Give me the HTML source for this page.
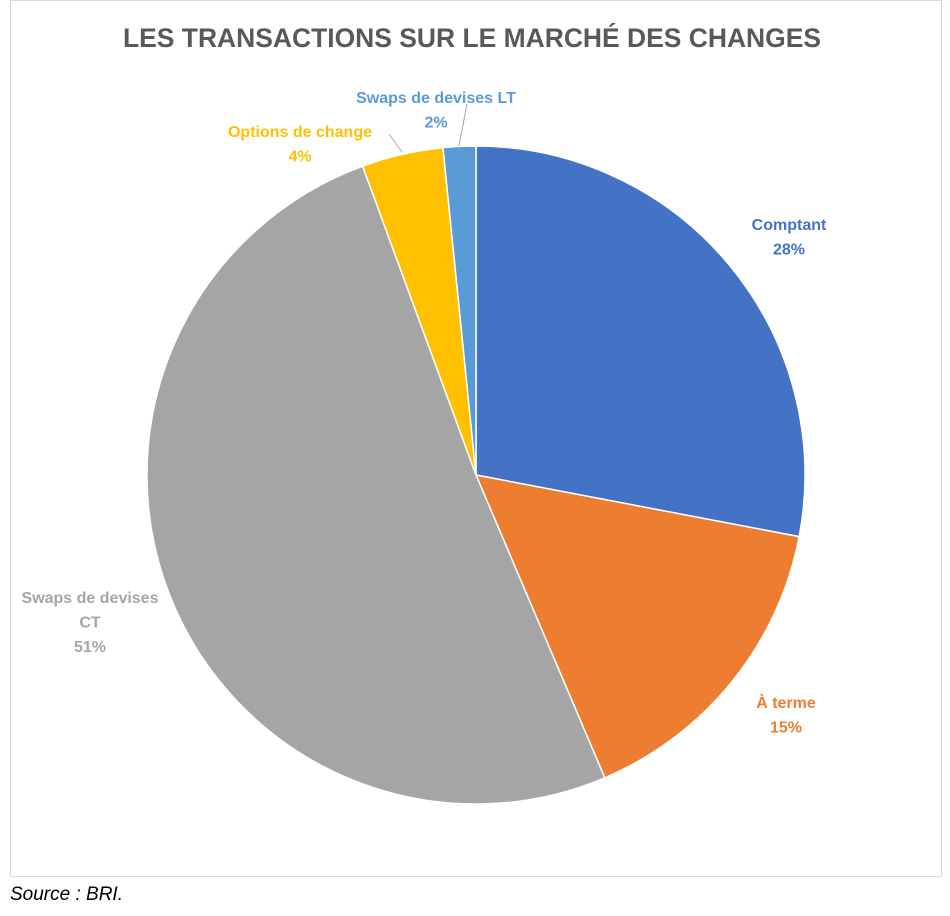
<!DOCTYPE html>
<html><head><meta charset="utf-8"><style>
html,body{margin:0;padding:0;background:#fff;width:950px;height:916px;overflow:hidden}
svg{display:block}
</style></head><body>
<svg width="950" height="916" viewBox="0 0 950 916" xmlns="http://www.w3.org/2000/svg">
<rect x="10.5" y="0.5" width="931" height="876" fill="#fff" stroke="#d9d9d9"/>
<text x="472" y="47" text-anchor="middle" font-family="Liberation Sans, sans-serif" font-weight="bold" font-size="27" fill="#595959" textLength="698" lengthAdjust="spacingAndGlyphs">LES TRANSACTIONS SUR LE MARCHÉ DES CHANGES</text>
<g id="slices"></g>
<g id="labels"></g>
<line x1="389" y1="134" x2="402" y2="152" stroke="#a6a6a6" stroke-width="1"/>
<line x1="467" y1="104" x2="459" y2="146" stroke="#a6a6a6" stroke-width="1"/>
<text x="10" y="900" font-family="Liberation Sans, sans-serif" font-style="italic" font-size="19" fill="#000">Source : BRI.</text>
</svg>
<script>
const categories = ["Comptant", "À terme", "Swaps de devises CT", "Options de change", "Swaps de devises LT"];
const values = [28.0, 15.6, 50.8, 4.0, 1.6];
const printedValues = ["28%", "15%", "51%", "4%", "2%"];
const colors = ["#4472c4", "#ed7d31", "#a5a5a5", "#ffc000", "#5b9bd5"];
const labelLines = [["Comptant"], ["À terme"], ["Swaps de devises", "CT"], ["Options de change"], ["Swaps de devises LT"]];
const labelPos = [[789, 230], [786, 708], [90, 603], [300, 137], [436, 103]];

const NS = "http://www.w3.org/2000/svg";
const cx = 476, cy = 475, r = 329;
const total = values.reduce((a, b) => a + b, 0);
function pt(frac) { const a = frac * 2 * Math.PI; return [cx + r * Math.sin(a), cy - r * Math.cos(a)]; }
const gS = document.getElementById("slices"), gL = document.getElementById("labels");
let cum = 0;
values.forEach((v, i) => {
  const f0 = cum / total, f1 = (cum + v) / total; cum += v;
  const p0 = pt(f0), p1 = pt(f1);
  const large = (f1 - f0) > 0.5 ? 1 : 0;
  const path = document.createElementNS(NS, "path");
  path.setAttribute("d", `M${cx},${cy} L${p0[0]},${p0[1]} A${r},${r} 0 ${large} 1 ${p1[0]},${p1[1]} Z`);
  path.setAttribute("fill", colors[i]);
  path.setAttribute("stroke", "#fff");
  path.setAttribute("stroke-width", "1.5");
  
  
  gS.appendChild(path);
  const t = document.createElementNS(NS, "text");
  t.setAttribute("x", labelPos[i][0]); t.setAttribute("y", labelPos[i][1]);
  t.setAttribute("text-anchor", "middle");
  t.setAttribute("font-family", "Liberation Sans, sans-serif");
  t.setAttribute("font-weight", "bold"); t.setAttribute("font-size", "16");
  t.setAttribute("fill", colors[i]);
  
  
  const lines = labelLines[i].concat([printedValues[i]]);
  lines.forEach((s, j) => {
    const ts = document.createElementNS(NS, "tspan");
    ts.setAttribute("x", labelPos[i][0]);
    ts.setAttribute("dy", j === 0 ? 0 : 24.5);
    ts.textContent = s;
    t.appendChild(ts);
  });
  gL.appendChild(t);
});
</script>
</body></html>
